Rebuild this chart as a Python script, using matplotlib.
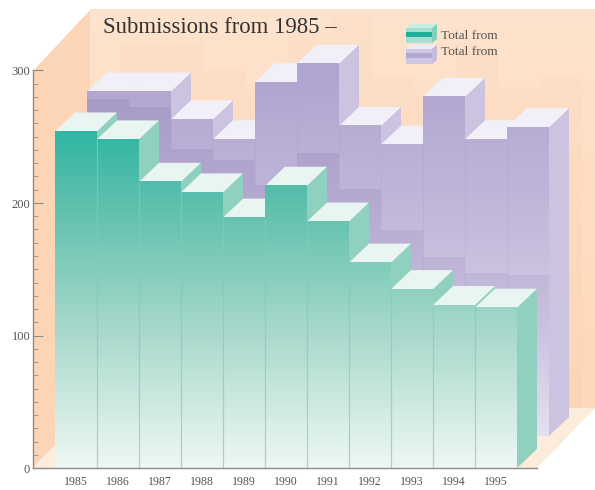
import numpy as np
import matplotlib
matplotlib.use("Agg")
import matplotlib.pyplot as plt
from matplotlib.colors import LinearSegmentedColormap
from matplotlib.patches import Polygon, Rectangle

years = ["1985", "1986", "1987", "1988", "1989", "1990", "1991", "1992", "1993", "1994", "1995"]
front_values = [254, 248, 216, 208, 189, 213, 186, 155, 135, 123, 121]
back_values = [260, 260, 239, 224, 267, 281, 234, 220, 256, 224, 233]
y_ticks = [0, 100, 200, 300]
y_minor = list(range(0, 301, 10))
legend_labels = ["Total from", "Total from"]

W, H = 595, 490
X_STEP = 42.0   # pixels per category
Y_STEP = 1.325  # pixels per unit
X_LEFT = 55.0
Y_ZERO = 468.0


def dx(px):
    return px / X_STEP


def dy(px):
    return px / Y_STEP


def x_of(px):
    return (px - X_LEFT) / X_STEP - 0.5


def y_of(px):
    return (Y_ZERO - px) / Y_STEP


def poly(ax, pts, color, z, **kw):
    p = Polygon(pts, closed=True, facecolor=color, edgecolor="none", zorder=z, **kw)
    ax.add_patch(p)
    return p


def grad_rect(ax, x0, x1, y0, y1, cmap, vmax, z):
    rows = np.linspace(y0, y1, 64)[:, None] / vmax
    ax.imshow(rows, extent=(x0, x1, y0, y1), origin="lower", aspect="auto",
              cmap=cmap, vmin=0, vmax=1, zorder=z, interpolation="bilinear")


green_cmap = LinearSegmentedColormap.from_list(
    "green", [(0, "#EDF7F3"), (0.38, "#ABDACD"), (0.77, "#5EC0AD"), (1, "#2DB6A2")])
purple_cmap = LinearSegmentedColormap.from_list(
    "purple", [(0, "#F5F2FA"), (0.35, "#D3CCE5"), (0.65, "#C1B7D9"), (1, "#B0A4D0")])
shadow_cmap = LinearSegmentedColormap.from_list(
    "shadow", [(0, "#EDE8F5"), (0.35, "#CBC1DE"), (0.65, "#B6AAD1"), (1, "#A597C5")])
wall_cmap = LinearSegmentedColormap.from_list("wall", ["#FDD8B9", "#FDE3CD"])

fig = plt.figure(figsize=(W / 100, H / 100), dpi=100)
ax = fig.add_axes([0, 0, 1, 1])
xlim = (x_of(0), x_of(W))
ylim = (y_of(H), y_of(0))

# room: back wall, left wall, floor
wall_x0, wall_y0, wall_y1 = x_of(90), y_of(408), y_of(10)
rows = np.linspace(0, 1, 32)[:, None]
ax.imshow(rows, extent=(wall_x0, xlim[1], wall_y0, wall_y1), origin="lower", aspect="auto",
          cmap=wall_cmap, zorder=1)
poly(ax, [(x_of(33), y_of(71)), (wall_x0, wall_y1), (wall_x0, wall_y0), (x_of(33), 0)], "#FBD5B6", 1.1)
poly(ax, [(x_of(33), 0), (wall_x0, wall_y0), (xlim[1], wall_y0), (x_of(537), 0)], "#FDEBDC", 1.2)

# faint shadows of the rear bars on the wall
for i, v in enumerate(back_values):
    x0 = i - 0.5 + dx(65)
    top = y_of(437) + v + dy(50)
    poly(ax, [(x0, wall_y0), (x0 + 1, wall_y0), (x0 + 1, top), (x0, top)], "#F0A878", 1.5, alpha=0.045)

# rear series
shift_x, shift_y = dx(32), dy(32)
depth_x, depth_y = dx(20), dy(19)
z = 2.0
for i, v in enumerate(back_values):
    x0, x1 = i - 0.5 + shift_x, i + 0.5 + shift_x
    base, top = shift_y, shift_y + v
    poly(ax, [(x1, base), (x1 + depth_x, base + depth_y), (x1 + depth_x, top + depth_y), (x1, top)], "#CBC3E0", z)
    poly(ax, [(x0, top), (x1, top), (x1 + depth_x, top + depth_y), (x0 + depth_x, top + depth_y)], "#F1EFF8", z + 0.01)
    grad_rect(ax, x0, x1, base, top, purple_cmap, 280 + shift_y, z + 0.02)
    # shadow thrown by the front bar of the same year
    h = min(front_values[i], v)
    grad_rect(ax, x0, x1, base, base + h, shadow_cmap, 280 + shift_y, z + 0.03)
    z += 0.1

for i in range(len(back_values) - 1):
    ax.plot([i + 0.5 + shift_x] * 2, [shift_y, shift_y + min(back_values[i], back_values[i + 1])],
            color="#A99CC8", lw=0.6, alpha=0.3, zorder=3.9)

# front series
z = 4.0
for i, v in enumerate(front_values):
    x0, x1 = i - 0.5, i + 0.5
    poly(ax, [(x1, 0), (x1 + depth_x, depth_y), (x1 + depth_x, v + depth_y), (x1, v)], "#8FD0BF", z)
    poly(ax, [(x0, v), (x1, v), (x1 + depth_x, v + depth_y), (x0 + depth_x, v + depth_y)], "#E8F5F0", z + 0.01)
    grad_rect(ax, x0, x1, 0, v, green_cmap, 260, z + 0.02)
    z += 0.1

for i in range(len(front_values) - 1):
    ax.plot([i + 0.5] * 2, [0, min(front_values[i], front_values[i + 1])],
            color="#7FCDBA", lw=0.9, alpha=0.7, zorder=5.9)

ax.set_xlim(xlim)
ax.set_ylim(ylim)

# axes
for name in ("top", "right"):
    ax.spines[name].set_visible(False)
ax.spines["left"].set_position(("data", x_of(33)))
ax.spines["left"].set_bounds(0, 300)
ax.spines["bottom"].set_position(("data", 0))
ax.spines["bottom"].set_bounds(x_of(33), x_of(537))
for s in ("left", "bottom"):
    ax.spines[s].set_color("#8C8C8C")
    ax.spines[s].set_linewidth(1.0)
    ax.spines[s].set_zorder(7)
ax.set_yticks(y_ticks)
ax.set_yticks(y_minor, minor=True)
ax.set_xticks(range(len(years)))
ax.set_xticklabels(years, family="Liberation Serif", fontsize=8.6, color="#555555")
ax.set_yticklabels([str(t) for t in y_ticks], family="Liberation Serif", fontsize=9, color="#555555")
ax.tick_params(axis="y", which="major", direction="in", length=7, width=0.8, color="#8C8C8C", pad=2)
ax.tick_params(axis="y", which="minor", direction="in", length=3.5, width=0.8, color="#A89C90")
ax.tick_params(axis="x", length=0, pad=6)

ax.text(x_of(103), y_of(28), "Submissions from 1985 \u2013", family="Liberation Serif", fontsize=16.4,
        color="#333333", ha="left", va="center", zorder=8)

# legend swatches
legend_styles = [
    (y_of(43), y_of(36), "#A6DFD2", "#C8EDE4", "#1FAE98", "#7FD0BD"),
    (y_of(64), y_of(52), "#CFC8E4", "#EFECF7", "#B5A9D3", "#C4BBDD"),
]
lx0, lx1 = x_of(406), x_of(432)
ld = dx(5)
for (y0, y_text, face, top_c, band, side), label in zip(legend_styles, legend_labels):
    h = dy(15)
    ax.add_patch(Rectangle((lx0, y0), lx1 - lx0, h, facecolor=face, edgecolor="none", zorder=8))
    ax.add_patch(Rectangle((lx0, y0 + h * 0.42), lx1 - lx0, h * 0.3, facecolor=band, edgecolor="none", zorder=8.1))
    poly(ax, [(lx0, y0 + h), (lx1, y0 + h), (lx1 + ld, y0 + h + dy(4)), (lx0 + ld, y0 + h + dy(4))], top_c, 8.1)
    poly(ax, [(lx1, y0), (lx1 + ld, y0 + dy(4)), (lx1 + ld, y0 + h + dy(4)), (lx1, y0 + h)], side, 8.1)
    ax.text(x_of(441), y_text, label, family="Liberation Serif", fontsize=9.6, color="#555555",
            ha="left", va="center", zorder=8)

fig.savefig("out.png", dpi=100, facecolor="white")
